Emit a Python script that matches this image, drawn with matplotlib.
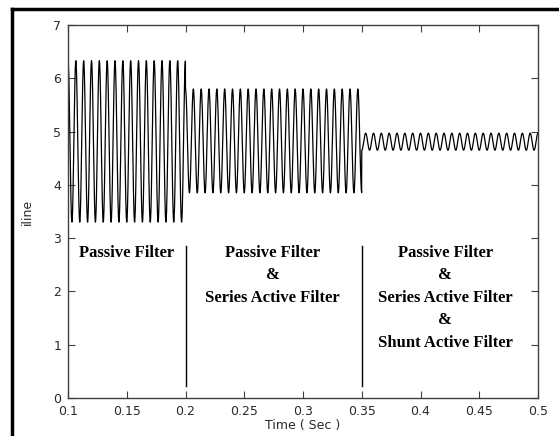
import numpy as np
import matplotlib
matplotlib.use("Agg")
import matplotlib.pyplot as plt
from matplotlib.lines import Line2D

# waveform, one entry per operating mode
seg_start = [0.1, 0.2, 0.35]
seg_end = [0.2, 0.35, 0.5]
seg_low = [3.30, 3.85, 4.65]
seg_high = [6.33, 5.80, 4.97]
freq = 150.0  # visible oscillation rate (Hz)

# mode boundaries and their marker lines
switch_times = [0.2, 0.35]
marker_bottom = 0.22
marker_top = 2.85

labels = [
    "Passive Filter",
    "Passive Filter\n&\nSeries Active Filter",
    "Passive Filter\n&\nSeries Active Filter\n&\nShunt Active Filter",
]
label_x = [0.150, 0.274, 0.421]
label_y = 2.88

xticks = [0.1, 0.15, 0.2, 0.25, 0.3, 0.35, 0.4, 0.45, 0.5]
xticklabels = ["0.1", "0.15", "0.2", "0.25", "0.3", "0.35", "0.4", "0.45", "0.5"]
yticks = [0, 1, 2, 3, 4, 5, 6, 7]

fig = plt.figure(figsize=(5.59, 4.36), dpi=100)
ax = fig.add_axes([68 / 559, 1 - 398 / 436, 470 / 559, 373 / 436])

t_all, y_all = [], []
for a, b, lo, hi in zip(seg_start, seg_end, seg_low, seg_high):
    t = np.arange(a, b, 1e-4)
    mid = (lo + hi) / 2
    amp = (hi - lo) / 2
    t_all.append(t)
    y_all.append(mid + amp * np.cos(2 * np.pi * freq * (t - 0.1)))
t_all = np.concatenate(t_all)
y_all = np.concatenate(y_all)
ax.plot(t_all, y_all, color="black", lw=0.9)

for s in switch_times:
    ax.plot([s, s], [marker_bottom, marker_top], color="black", lw=1)

for txt, x in zip(labels, label_x):
    ax.text(x, label_y, txt, ha="center", va="top", family="Liberation Serif",
            fontweight="bold", fontsize=12, linespacing=1.55)

ax.set_xlim(0.1, 0.5)
ax.set_ylim(0, 7)
ax.set_xticks(xticks)
ax.set_xticklabels(xticklabels)
ax.set_yticks(yticks)
ax.tick_params(direction="in", length=5, top=True, right=True, labelsize=9,
               labelcolor="#2a2a2a", color="#404040")
ax.tick_params(axis="x", pad=5)
ax.tick_params(axis="y", pad=5)
for sp in ax.spines.values():
    sp.set_color("#404040")
    sp.set_linewidth(1)
ax.set_xlabel("Time ( Sec )", fontsize=9, color="#2a2a2a", labelpad=1)
ax.set_ylabel("iline", fontsize=9, color="#2a2a2a", labelpad=14)

# outer frame (left and top edges only are visible)
fig.add_artist(Line2D([12 / 559, 12 / 559], [0, 1 - 9 / 436], transform=fig.transFigure,
                      color="black", lw=2.5))
fig.add_artist(Line2D([12 / 559, 1], [1 - 9 / 436, 1 - 9 / 436], transform=fig.transFigure,
                      color="black", lw=2.5))

fig.savefig("out.png", dpi=100)
